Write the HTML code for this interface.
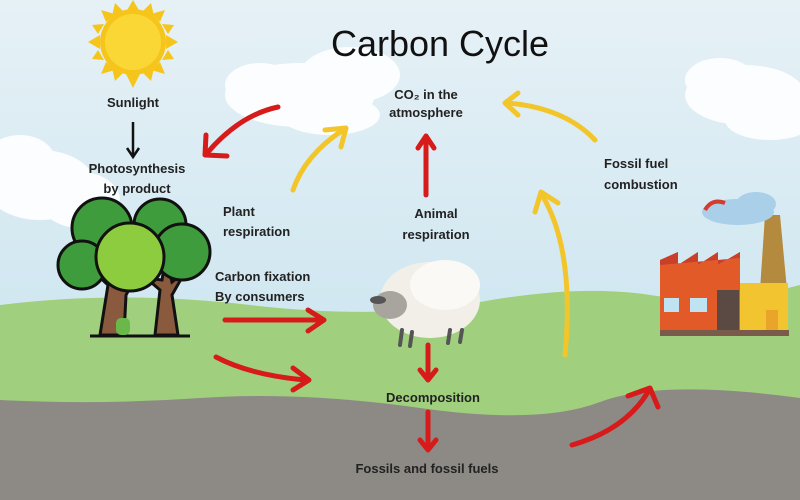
<!DOCTYPE html>
<html><head><meta charset="utf-8"><style>
html,body{margin:0;padding:0;width:800px;height:500px;overflow:hidden}
svg{display:block}
text{font-family:"Liberation Sans",sans-serif;fill:#222}
</style></head><body>
<svg width="800" height="500" viewBox="0 0 800 500" xmlns="http://www.w3.org/2000/svg">
<defs>
<linearGradient id="sky" x1="0" y1="0" x2="0" y2="1">
<stop offset="0" stop-color="#e6f1f6"/><stop offset="1" stop-color="#c4e1ee"/>
</linearGradient>
</defs>
<rect width="800" height="500" fill="url(#sky)"/>
<g fill="#fbfdfe">
<ellipse cx="40" cy="185" rx="55" ry="35"/><ellipse cx="80" cy="200" rx="40" ry="28"/><ellipse cx="20" cy="160" rx="35" ry="25"/>
<ellipse cx="300" cy="95" rx="75" ry="32"/><ellipse cx="350" cy="75" rx="50" ry="28"/><ellipse cx="260" cy="85" rx="35" ry="22"/><ellipse cx="330" cy="115" rx="50" ry="20"/>
<ellipse cx="745" cy="95" rx="60" ry="30"/><ellipse cx="720" cy="80" rx="35" ry="22"/><ellipse cx="770" cy="120" rx="45" ry="20"/>
</g>
<path d="M0 305 Q120 290 250 305 T480 302 T650 295 T800 285 L800 500 L0 500Z" fill="#a0d07d"/>
<path d="M0 400 Q100 405 200 398 T420 408 T600 402 T800 398 L800 500 L0 500Z" fill="#8d8a86"/>
<g fill="#f6c51c">
<polygon points="133,0 140,12 126,12"/><polygon points="133,88 140,74 126,74"/><polygon points="88,42 100,35 100,49"/><polygon points="178,42 166,35 166,49"/>
<polygon points="101,10 115,14 106,22"/><polygon points="165,10 160,22 151,14"/><polygon points="101,74 106,62 115,70"/><polygon points="165,74 151,70 160,62"/>
<polygon points="115,3 124,12 112,16"/><polygon points="151,3 154,16 142,12"/><polygon points="92,25 104,24 98,34"/><polygon points="174,25 168,34 162,24"/>
<polygon points="92,59 98,50 104,60"/><polygon points="174,59 162,60 168,50"/><polygon points="115,81 112,68 124,72"/><polygon points="151,81 142,72 154,68"/>
<circle cx="133" cy="42" r="33"/>
</g>
<circle cx="133" cy="42" r="28" fill="#fbd735"/>
<text x="440" y="56" font-size="36" text-anchor="middle" style="fill:#111">Carbon Cycle</text>
<g font-size="13" font-weight="bold" fill="#333">
<text x="133" y="107" text-anchor="middle">Sunlight</text>
<text x="137" y="173" text-anchor="middle">Photosynthesis</text>
<text x="137" y="193" text-anchor="middle">by product</text>
<text x="426" y="99" text-anchor="middle">CO₂ in the</text>
<text x="426" y="117" text-anchor="middle">atmosphere</text>
<text x="223" y="216">Plant</text>
<text x="223" y="236">respiration</text>
<text x="436" y="218" text-anchor="middle">Animal</text>
<text x="436" y="239" text-anchor="middle">respiration</text>
<text x="604" y="168">Fossil fuel</text>
<text x="604" y="189">combustion</text>
<text x="215" y="281">Carbon fixation</text>
<text x="215" y="301">By consumers</text>
<text x="433" y="402" text-anchor="middle">Decomposition</text>
<text x="427" y="473" text-anchor="middle">Fossils and fossil fuels</text>
</g>
<g stroke="#111" stroke-width="2.5" fill="none"><path d="M133 122 V156"/><path d="M127 148 L133 157 L139 148"/></g>
<g stroke="#d71a1a" stroke-width="5" fill="none" stroke-linecap="round" stroke-linejoin="round">
<path d="M278 107 Q240 115 208 152"/><path d="M206 135 L205 155 L227 156"/>
<path d="M426 195 V138"/><path d="M418 148 L426 136 L434 148"/>
<path d="M225 320 H322"/><path d="M308 310 L324 320 L308 331"/>
<path d="M216 357 Q250 375 305 380"/><path d="M293 368 L309 380 L293 390"/>
<path d="M428 345 V378"/><path d="M420 370 L428 380 L436 370"/>
<path d="M428 412 V448"/><path d="M420 440 L428 450 L436 440"/>
<path d="M572 445 Q625 430 648 392"/><path d="M628 396 L650 388 L658 407"/>
</g>
<g stroke="#f2c62b" stroke-width="5" fill="none" stroke-linecap="round" stroke-linejoin="round">
<path d="M293 190 Q305 155 343 130"/><path d="M325 130 L346 128 L341 147"/>
<path d="M565 355 Q575 250 542 195"/><path d="M535 212 L541 192 L558 203"/>
<path d="M595 140 Q565 108 508 103"/><path d="M518 93 L505 103 L518 115"/>
</g>
<g stroke="#111" stroke-width="3">
<path d="M100 335 L108 285 L92 270 L112 275 L118 250 L124 285 L140 270 L126 295 L124 335Z" fill="#8a5a3e"/>
<path d="M155 335 L160 290 L146 278 L162 280 L166 255 L172 282 L185 272 L172 295 L178 335Z" fill="#8a5a3e"/>
<circle cx="102" cy="228" r="30" fill="#3f9c3c"/>
<circle cx="160" cy="225" r="26" fill="#3f9c3c"/>
<circle cx="82" cy="265" r="24" fill="#3f9c3c"/>
<circle cx="182" cy="252" r="28" fill="#3f9c3c"/>
<circle cx="130" cy="257" r="34" fill="#8ccc3e"/>
<line x1="90" y1="336" x2="190" y2="336"/>
</g>
<rect x="116" y="318" width="14" height="17" rx="5" fill="#6ab84a"/>
<g>
<ellipse cx="430" cy="300" rx="50" ry="38" fill="#f1efe8"/>
<ellipse cx="445" cy="285" rx="35" ry="25" fill="#faf9f5"/>
<ellipse cx="390" cy="305" rx="17" ry="14" fill="#a8a49e"/>
<ellipse cx="378" cy="300" rx="8" ry="4" fill="#555"/>
<g stroke="#555" stroke-width="4" stroke-linecap="round"><line x1="402" y1="330" x2="400" y2="345"/><line x1="412" y1="332" x2="410" y2="346"/><line x1="450" y1="330" x2="448" y2="343"/><line x1="462" y1="330" x2="460" y2="342"/></g>
</g>
<g>
<polygon points="760,290 765,215 780,215 787,290" fill="#b38a3e"/>
<ellipse cx="738" cy="212" rx="36" ry="13" fill="#a9cfe9"/><ellipse cx="756" cy="204" rx="20" ry="12" fill="#a9cfe9"/>
<path d="M705 210 Q712 198 725 203" stroke="#d43c2e" stroke-width="4" fill="none"/>
<polygon points="660,335 660,260 678,252 678,265 698,252 698,265 718,252 718,265 740,252 740,335" fill="#e15a28"/>
<polygon points="660,260 678,252 678,265 698,252 698,265 718,252 718,265 740,252 740,258 660,265" fill="#c9402a"/>
<rect x="740" y="283" width="48" height="52" fill="#f2c530"/>
<rect x="717" y="290" width="22" height="40" fill="#5b4a44"/>
<rect x="664" y="298" width="15" height="14" fill="#bfe3f1"/><rect x="690" y="298" width="17" height="14" fill="#bfe3f1"/>
<rect x="766" y="310" width="12" height="25" fill="#e8a52a"/>
<rect x="660" y="330" width="129" height="6" fill="#7a5a4a"/>
</g>
</svg>
</body></html>
